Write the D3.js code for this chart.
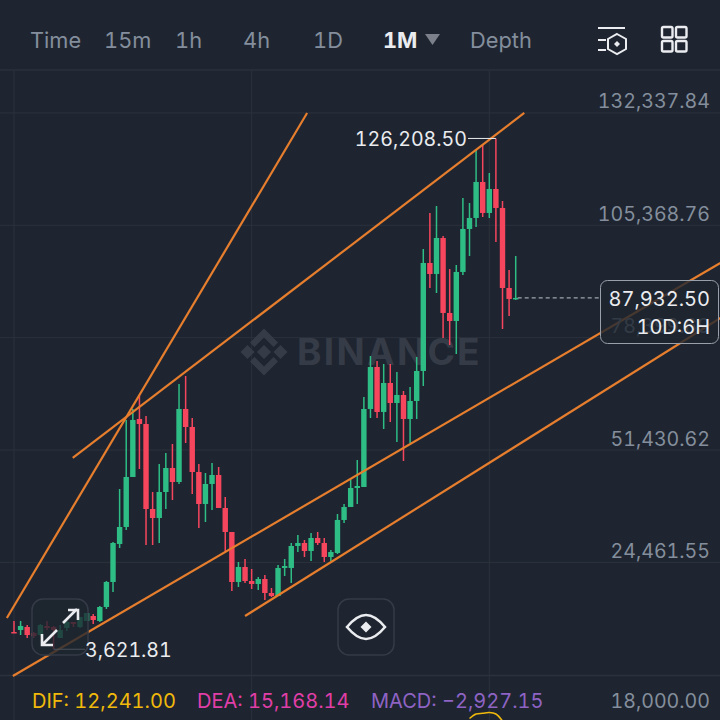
<!DOCTYPE html>
<html>
<head>
<meta charset="utf-8">
<script src="https://cdn.jsdelivr.net/npm/d3@7"></script>
<style>
html, body { margin: 0; padding: 0; background: #1e2530; }
svg { display: block; font-family: Inter, "Noto Sans", sans-serif; font-variant-numeric: tabular-nums; }
</style>
</head>
<body>
<script>
// monthly candles
var opens = [7760, 8240, 8960, 7520, 7040, 9200, 8960, 6320, 8720, 10160, 8960, 10400, 11600, 10400, 13760, 19760, 28880, 32960, 44960, 58880,
    57680, 37280, 35120, 41360, 47120, 43760, 61280, 56960, 46160, 38480, 43280, 45440, 37520, 31760, 19760, 23360, 20000, 19280, 20480, 17120,
    16400, 23120, 23120, 28400, 29120, 27200, 30320, 29120, 25760, 26720, 34640, 37760, 42320, 42560, 61280, 71360, 60560, 67520, 62720, 64640,
    58880, 63200, 70400, 96320, 93680, 102320, 84320, 82400, 94160, 104480, 107120, 115760, 108320, 114080, 109520, 90320, 87680];
var highs = [10400, 10400, 9440, 7760, 9680, 10400, 9200, 9440, 10400, 10160, 11360, 12320, 12080, 14000, 20000, 29360, 42080, 58640, 61280, 64640,
    59600, 41360, 48080, 50720, 52880, 67280, 69200, 59120, 48080, 45920, 48320, 47360, 40160, 31760, 24560, 25280, 22880, 20960, 21440, 18320,
    23840, 25280, 29120, 31040, 29840, 31520, 31760, 30320, 27440, 36080, 38480, 44480, 49040, 64160, 74000, 72800, 72080, 72080, 70160, 65600,
    66560, 73760, 99680, 108320, 110000, 102800, 94880, 95840, 111920, 110720, 123440, 124640, 117920, 126208.5, 111200, 94640, 98000];
var lows = [7520, 7040, 6320, 6320, 6800, 8240, 3621.81, 6320, 8000, 8960, 8720, 10400, 9680, 10160, 13280, 17360, 27920, 32240, 44960, 46880,
    28640, 28640, 29120, 37280, 39440, 43280, 53120, 40880, 32720, 34160, 37040, 37520, 26960, 17600, 18560, 19520, 18080, 17840, 15440, 16160,
    16400, 21200, 19520, 26960, 25760, 24800, 28640, 24560, 24800, 26480, 33920, 37760, 38480, 42560, 59120, 59120, 56480, 58160, 53360, 48800,
    53120, 58880, 66800, 90320, 89120, 78320, 76640, 74480, 93440, 98000, 104960, 107360, 107120, 101360, 80480, 83600, 87440];
var closes = [7520, 9200, 7040, 6800, 9440, 8720, 8240, 8240, 10160, 9680, 11360, 12320, 10640, 13760, 19760, 29120, 32960, 44960, 58640, 57680,
    37280, 35120, 41360, 47120, 43760, 61280, 56960, 46160, 38480, 43280, 45440, 37520, 31760, 19760, 23360, 20000, 19280, 20480, 17120, 16400,
    23120, 23600, 28400, 29120, 27200, 30320, 29120, 25760, 26960, 34640, 37760, 42320, 42800, 61280, 71360, 60560, 67520, 62720, 64640, 58880,
    63200, 70400, 96320, 93680, 102320, 84320, 82400, 94160, 104480, 107120, 115760, 108320, 114080, 109520, 90320, 87680, 87932.5];

var priceTicks = [132337.84, 105368.76, 78399.69, 51430.62, 24461.55];
var gridIndexes = [0, 36, 72];

// drawn trend lines: [candle index, price] at both ends
var trendLines = [
    [[-1.08, 11120], [44.4, 132320]],
    [[8.9, 49520], [77.3, 132320]],
    [[-0.17, -2800], [107, 96320]],
    [[35, 11600], [107, 83120]]
];

// the top of the DIF line, cut off by the bottom of the screen
var difIndexes = [69, 70, 71, 72, 73, 74];
var difValues = [17090, 17830, 17950, 18070, 17830, 16670];

var tabNames = ["Time", "15m", "1h", "4h", "1D", "1M", "Depth"];
var tabLefts = [30, 104, 175, 243, 313, 383, 470];

var maxPrice = 126208.5, minPrice = 3621.81, lastPrice = 87932.5;

var width = 720, height = 720;
var bg = "#1e2530", grid = "#2c323d", gray = "#848e9c", white = "#eaecef";
var up = "#2ebd85", down = "#f6465d", orange = "#e67e2e";
var numSize = 19.6;
var fmt = d3.format(",.2f");

var x = d3.scaleLinear().domain([0, 72]).range([14, 489.3]);
var y = d3.scaleLinear().domain([24461.55, 132337.84]).range([562.4, 112.9]);
var difY = d3.scaleLinear().domain([17000, 18000]).range([719, 713]);

var svg = d3.select("body").append("svg")
    .attr("width", width)
    .attr("height", height);

svg.append("rect").attr("width", width).attr("height", height).attr("fill", bg);

// grid
svg.selectAll(".hgrid").data(priceTicks).enter().append("line")
    .attr("x1", 0).attr("x2", width)
    .attr("y1", function (d) { return y(d); })
    .attr("y2", function (d) { return y(d); })
    .attr("stroke", grid).attr("stroke-width", 1);
svg.selectAll(".vgrid").data(gridIndexes).enter().append("line")
    .attr("x1", function (d) { return x(d); })
    .attr("x2", function (d) { return x(d); })
    .attr("y1", 70).attr("y2", height)
    .attr("stroke", grid).attr("stroke-width", 1);
svg.append("line").attr("x1", 0).attr("x2", width).attr("y1", 70).attr("y2", 70)
    .attr("stroke", "#272d38").attr("stroke-width", 2);
svg.append("line").attr("x1", 0).attr("x2", width).attr("y1", 675.5).attr("y2", 675.5)
    .attr("stroke", grid).attr("stroke-width", 1.5);

// watermark
var mark = svg.append("g").attr("fill", "#363c47");
var logo = mark.append("g").attr("transform", "translate(264,352)");
logo.append("path").attr("d", "M0,-7L7,0L0,7L-7,0Z");
logo.append("path").attr("d", "M-16.5,-7L-9.5,0L-16.5,7L-23.5,0Z");
logo.append("path").attr("d", "M16.5,-7L23.5,0L16.5,7L9.5,0Z");
logo.append("path").attr("d", "M0,-23.5L14,-9.5L9.5,-5L0,-14.5L-9.5,-5L-14,-9.5Z");
logo.append("path").attr("d", "M0,23.5L14,9.5L9.5,5L0,14.5L-9.5,5L-14,9.5Z");
mark.append("text").attr("x", 297).attr("y", 365)
    .attr("font-size", 37).attr("font-weight", 700).attr("letter-spacing", 2.3)
    .text("BINANCE");

// candles
var candles = d3.range(opens.length);
svg.selectAll(".wick").data(candles).enter().append("line")
    .attr("x1", function (i) { return x(i); })
    .attr("x2", function (i) { return x(i); })
    .attr("y1", function (i) { return y(highs[i]); })
    .attr("y2", function (i) { return y(lows[i]); })
    .attr("stroke", function (i) { return closes[i] >= opens[i] ? up : down; })
    .attr("stroke-width", 1.5);
svg.selectAll(".body").data(candles).enter().append("rect")
    .attr("x", function (i) { return x(i) - 2.7; })
    .attr("width", 5.4)
    .attr("y", function (i) { return y(Math.max(opens[i], closes[i])); })
    .attr("height", function (i) { return Math.max(1.5, Math.abs(y(opens[i]) - y(closes[i]))); })
    .attr("fill", function (i) { return closes[i] >= opens[i] ? up : down; });

// trend lines
var lineGen = d3.line()
    .x(function (d) { return x(d[0]); })
    .y(function (d) { return y(d[1]); });
svg.selectAll(".trend").data(trendLines).enter().append("path")
    .attr("d", lineGen)
    .attr("fill", "none")
    .attr("stroke", orange)
    .attr("stroke-width", 2.2);

// dif line
svg.append("path")
    .datum(difIndexes)
    .attr("d", d3.line()
        .x(function (d) { return x(d); })
        .y(function (d, i) { return difY(difValues[i]); })
        .curve(d3.curveCatmullRom))
    .attr("fill", "none")
    .attr("stroke", "#f0b90b")
    .attr("stroke-width", 1.5);

// high and low markers
var maxIndex = highs.indexOf(maxPrice), minIndex = lows.indexOf(minPrice);
svg.append("line")
    .attr("x1", 468).attr("x2", x(maxIndex))
    .attr("y1", y(maxPrice)).attr("y2", y(maxPrice))
    .attr("stroke", white).attr("stroke-width", 1);
svg.append("text").attr("x", 467).attr("y", y(maxPrice) + 8)
    .attr("text-anchor", "end").attr("font-size", numSize).attr("fill", white)
    .text(fmt(maxPrice));
svg.append("line")
    .attr("x1", x(minIndex)).attr("x2", 85)
    .attr("y1", y(minPrice)).attr("y2", y(minPrice))
    .attr("stroke", white).attr("stroke-width", 1);

// expand button
svg.append("rect")
    .attr("x", 32).attr("y", 599).attr("width", 56).attr("height", 56).attr("rx", 11)
    .attr("fill", bg).attr("fill-opacity", 0.78)
    .attr("stroke", "#353b47").attr("stroke-width", 1.5);
var arrows = svg.append("g").attr("fill", "none").attr("stroke", white)
    .attr("stroke-width", 2.6);
arrows.append("path").attr("d", "M63,623L77,609M68,610H78V620");
arrows.append("path").attr("d", "M57,630L43,644M42,634V645H53");

svg.append("text").attr("x", 85).attr("y", y(minPrice) + 7.5)
    .attr("font-size", numSize).attr("fill", white)
    .text(fmt(minPrice));

// eye button
svg.append("rect")
    .attr("x", 338).attr("y", 599).attr("width", 56).attr("height", 56).attr("rx", 11)
    .attr("fill", bg).attr("stroke", "#353b47").attr("stroke-width", 1.5);
var eye = svg.append("g").attr("transform", "translate(366,627)");
eye.append("path").attr("d", "M-19,0Q-9,-12 0,-12Q9,-12 19,0Q9,12 0,12Q-9,12 -19,0Z")
    .attr("fill", "none").attr("stroke", white).attr("stroke-width", 2.6);
eye.append("path").attr("d", "M0,-5.5L5.5,0L0,5.5L-5.5,0Z").attr("fill", white);

// price axis
svg.selectAll(".tick-label").data(priceTicks).enter().append("text")
    .attr("x", 710)
    .attr("y", function (d) { return y(d) - 4.5; })
    .attr("text-anchor", "end")
    .attr("font-size", numSize)
    .attr("fill", gray)
    .text(function (d) { return fmt(d); });
svg.append("text").attr("x", 710).attr("y", 708)
    .attr("text-anchor", "end").attr("font-size", numSize).attr("fill", gray)
    .text("18,000.00");

// last price
svg.append("line")
    .attr("x1", x(opens.length - 1) + 2).attr("x2", 600)
    .attr("y1", y(lastPrice)).attr("y2", y(lastPrice))
    .attr("stroke", "#a0a5ad").attr("stroke-width", 1.2).attr("stroke-dasharray", "4 3");
svg.append("rect")
    .attr("x", 600.5).attr("y", 280.5).attr("width", 118).attr("height", 63).attr("rx", 7)
    .attr("fill", bg).attr("fill-opacity", 0.8)
    .attr("stroke", "#9aa0a9").attr("stroke-width", 1);
svg.append("text").attr("x", 710).attr("y", 306)
    .attr("text-anchor", "end").attr("font-size", 20).attr("fill", white)
    .text(fmt(lastPrice));
svg.append("text").attr("x", 710).attr("y", 334)
    .attr("text-anchor", "end").attr("font-size", 20).attr("fill", white)
    .text("10D:6H");

// tabs
svg.selectAll(".tab").data(tabNames).enter().append("text")
    .attr("x", function (d, i) { return tabLefts[i]; })
    .attr("y", 48)
    .attr("font-size", 21.8)
    .attr("font-weight", function (d) { return d == "1M" ? 700 : 400; })
    .attr("fill", function (d) { return d == "1M" ? white : gray; })
    .text(function (d) { return d; });
svg.append("path").attr("d", "M425,34H440L432.5,45Z").attr("fill", "#7b808a");

// top right icons
var icon = svg.append("g").attr("fill", "none").attr("stroke", white).attr("stroke-width", 2);
icon.append("path").attr("d", "M598,28H625M598,40H606M598,50H606");
icon.append("path").attr("d", "M617,34L626,39V49L617,54L608,49V39Z");
icon.append("path").attr("d", "M617,41L620,44L617,47L614,44Z").attr("fill", white).attr("stroke", "none");
[[662, 27], [676, 27], [662, 41], [676, 41]].forEach(function (p) {
    icon.append("rect").attr("x", p[0]).attr("y", p[1]).attr("width", 10.5).attr("height", 10.5).attr("rx", 1.5)
        .attr("stroke-width", 2.4);
});

// macd legend
svg.append("text").attr("x", 32).attr("y", 708).attr("font-size", 20).attr("fill", "#f0b90b").text("DIF: 12,241.00");
svg.append("text").attr("x", 197).attr("y", 708).attr("font-size", 20).attr("fill", "#e13ea8").text("DEA: 15,168.14");
svg.append("text").attr("x", 371).attr("y", 708).attr("font-size", 20).attr("fill", "#8e63c4").text("MACD: \u22122,927.15");
</script>
</body>
</html>
